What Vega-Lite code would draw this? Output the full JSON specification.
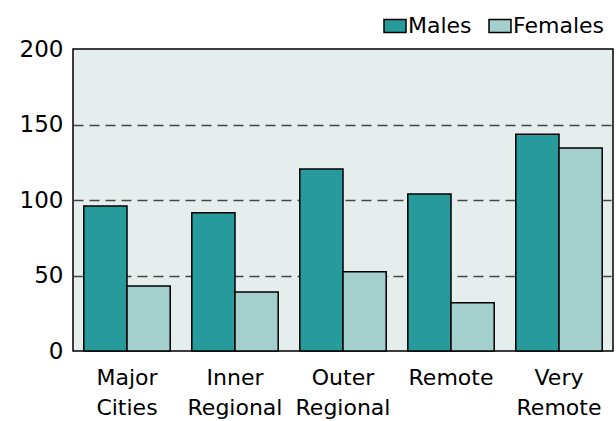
{
  "$schema": "https://vega.github.io/schema/vega-lite/v6.json",
  "width": 540,
  "height": 302,
  "autosize": "none",
  "padding": {"left": 73, "top": 49, "right": 3, "bottom": 70},
  "background": "white",
  "config": {
    "view": {"fill": "#e5eeec", "stroke": "black", "strokeWidth": 1.5},
    "font": "DejaVu Sans"
  },
  "data": {
    "values": [
      {"region": "Major Cities", "sex": "Males", "value": 96},
      {"region": "Major Cities", "sex": "Females", "value": 43},
      {"region": "Inner Regional", "sex": "Males", "value": 91.5},
      {"region": "Inner Regional", "sex": "Females", "value": 39},
      {"region": "Outer Regional", "sex": "Males", "value": 120.5},
      {"region": "Outer Regional", "sex": "Females", "value": 52.5},
      {"region": "Remote", "sex": "Males", "value": 104},
      {"region": "Remote", "sex": "Females", "value": 32},
      {"region": "Very Remote", "sex": "Males", "value": 143.5},
      {"region": "Very Remote", "sex": "Females", "value": 134.5}
    ]
  },
  "mark": {"type": "bar", "stroke": "black", "strokeWidth": 1.5},
  "encoding": {
    "x": {
      "field": "region", "type": "nominal", "sort": null,
      "scale": {"paddingInner": 0.2, "paddingOuter": 0.1},
      "axis": {
        "title": null, "labelAngle": 0,
        "labelExpr": "split(datum.label, ' ')",
        "labelFontSize": 22, "labelColor": "black", "labelLineHeight": 30,
        "ticks": false, "domain": false, "labelPadding": 16, "labelBaseline": "top"
      }
    },
    "xOffset": {
      "field": "sex", "type": "nominal", "sort": ["Males", "Females"],
      "scale": {"paddingInner": 0, "paddingOuter": 0}
    },
    "y": {
      "field": "value", "type": "quantitative",
      "scale": {"domain": [0, 200]},
      "axis": {
        "title": null, "values": [0, 50, 100, 150, 200],
        "labelFontSize": 23, "labelColor": "black",
        "ticks": false, "domain": false, "labelPadding": 10,
        "grid": true, "gridDash": [10, 6], "gridColor": "#444", "gridWidth": 1.3,
        "gridOpacity": {"condition": {"test": "datum.value > 0 && datum.value < 200", "value": 1}, "value": 0}
      }
    },
    "color": {
      "field": "sex", "type": "nominal",
      "scale": {"domain": ["Males", "Females"], "range": ["#279a9b", "#a3cfcd"]},
      "legend": {
        "orient": "none", "legendX": 310, "legendY": -35,
        "direction": "horizontal", "title": null,
        "symbolType": "M-1,-0.6H1V0.6H-1Z", "symbolSize": 484,
        "symbolStrokeColor": "black", "symbolStrokeWidth": 1.5, "symbolOpacity": 1,
        "labelFontSize": 22, "labelColor": "black", "labelOffset": 1,
        "columnPadding": 14
      }
    }
  }
}
